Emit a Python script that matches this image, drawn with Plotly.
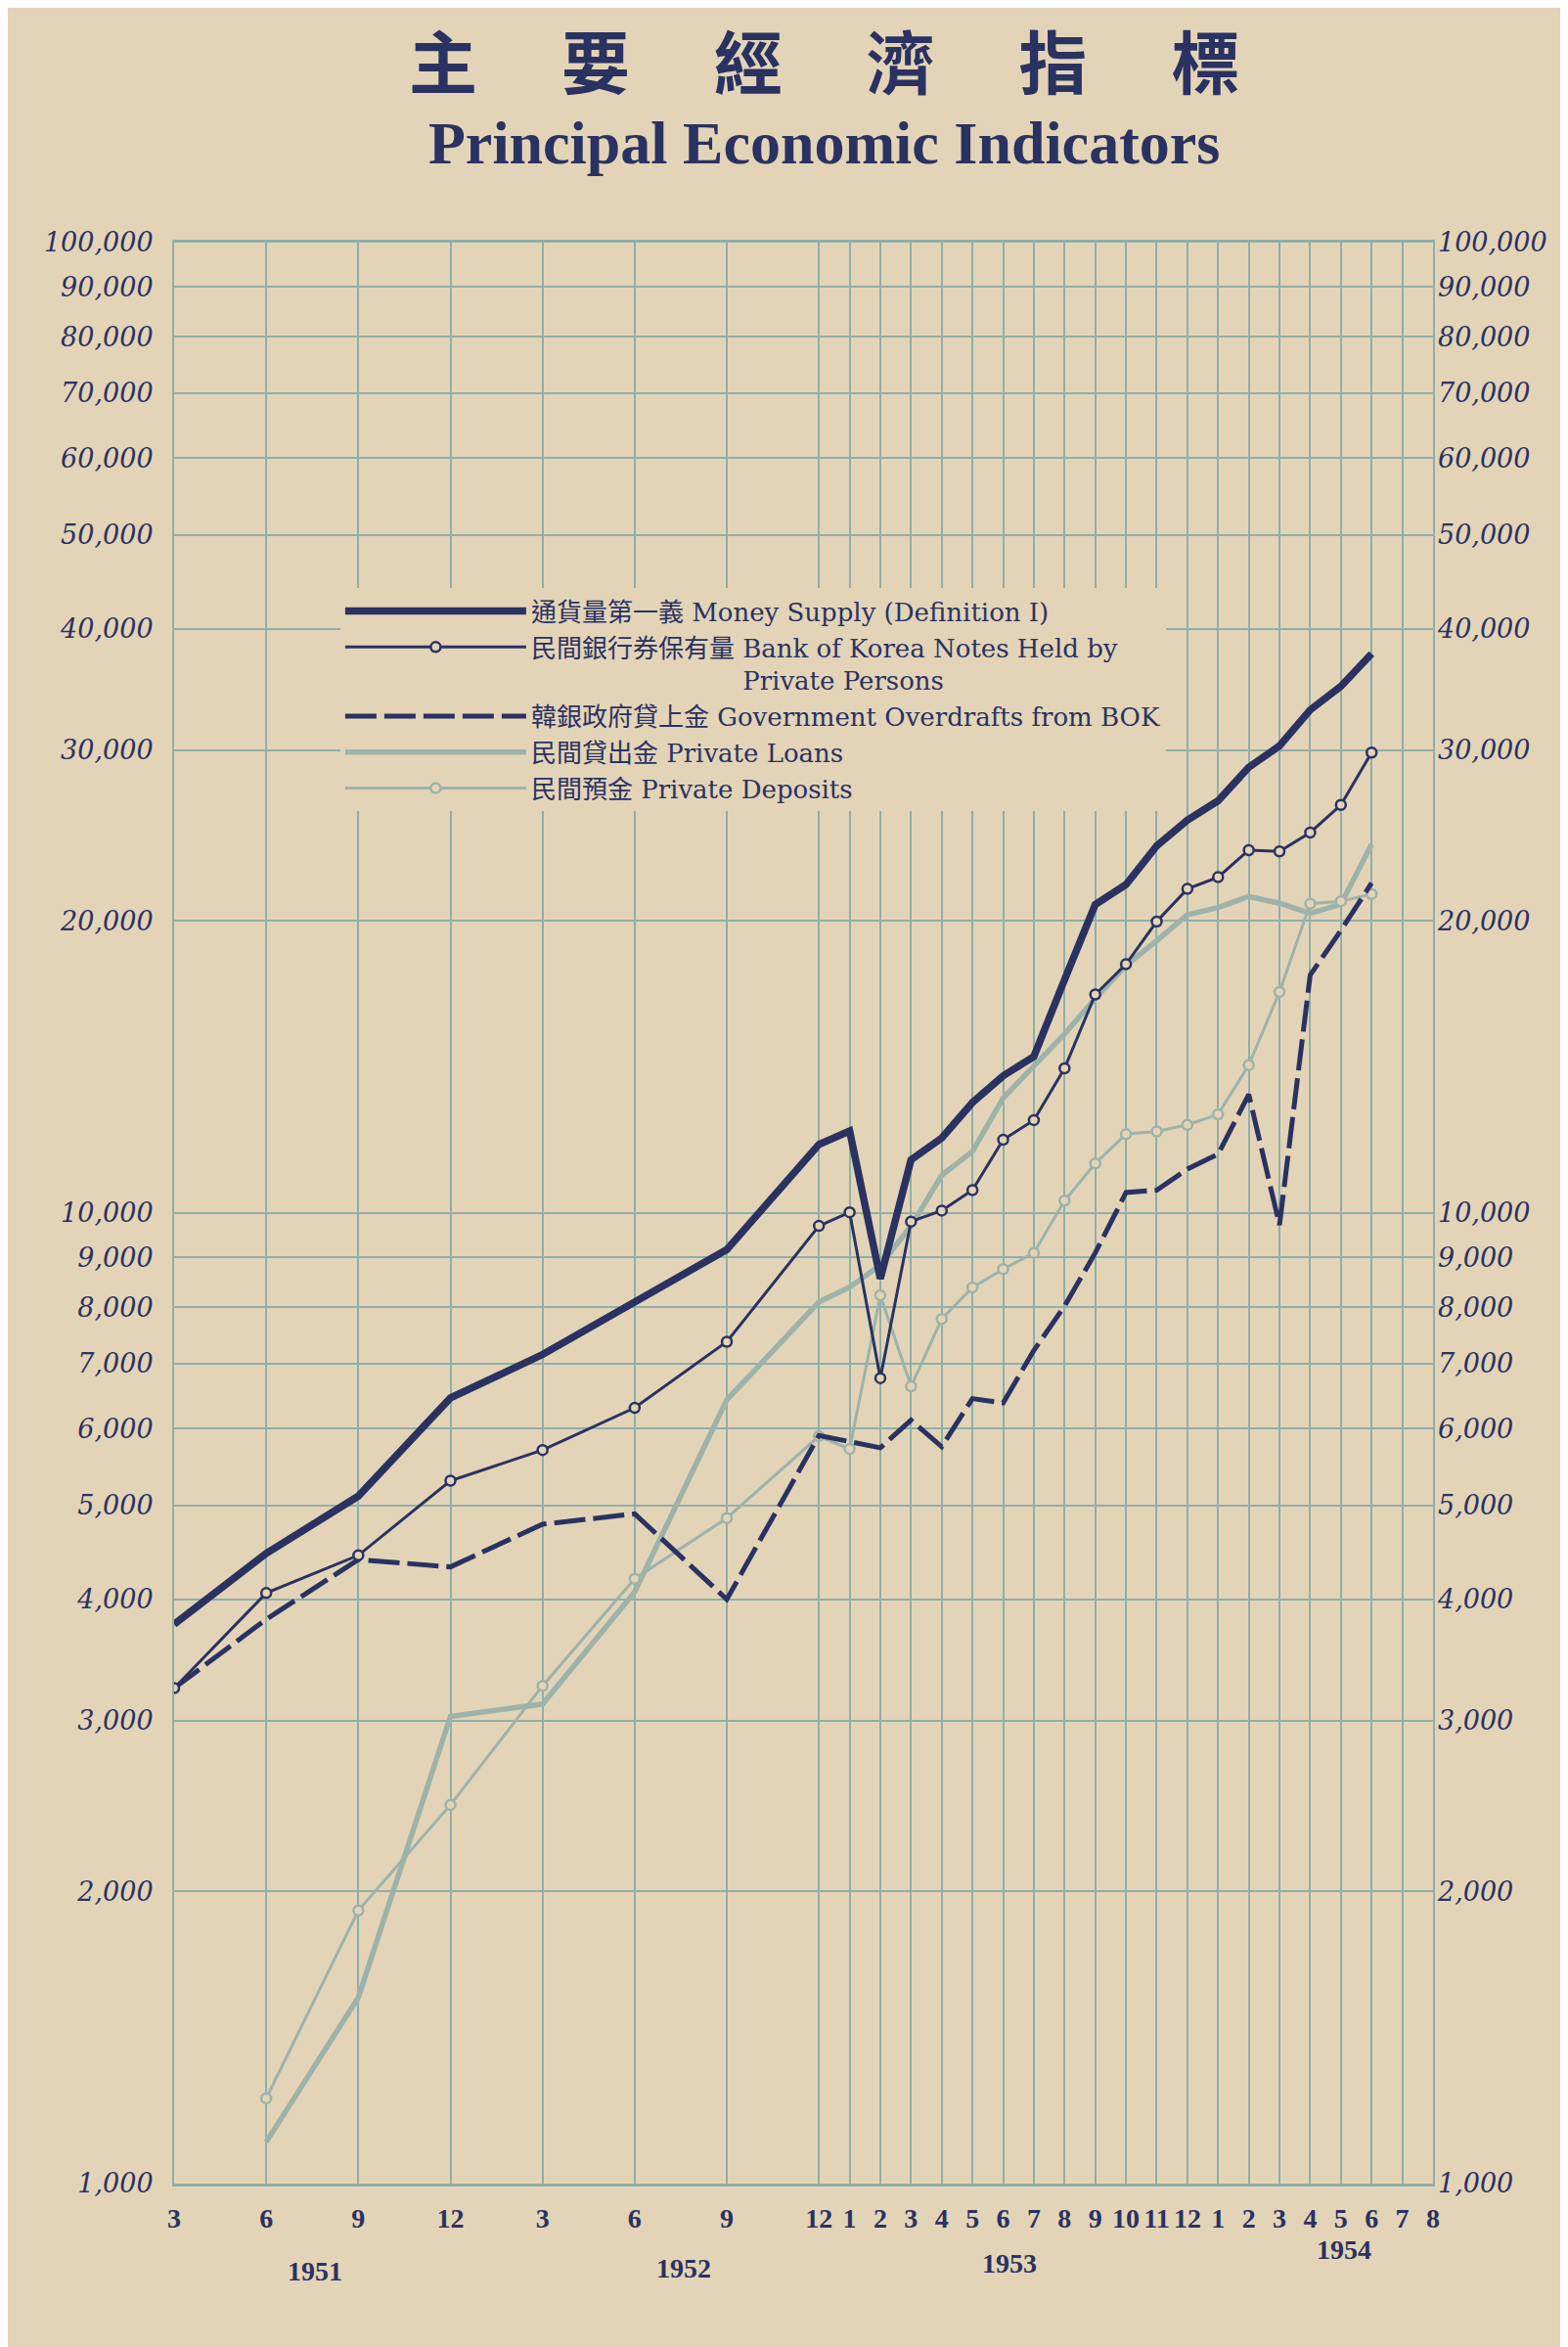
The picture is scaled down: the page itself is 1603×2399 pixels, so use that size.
import plotly.graph_objects as go

# month index: 0 = March 1951 ... 41 = August 1954
months = [0, 3, 6, 9, 12, 15, 18, 21, 22, 23, 24, 25, 26, 27, 28, 29, 30,
          31, 32, 33, 34, 35, 36, 37, 38, 39]
months_private = months[1:]

money_supply = [3770, 4460, 5110, 6450, 7150, 8100, 9170, 11770, 12150, 8560,
                11350, 11950, 13000, 13850, 14500, 17400, 20800, 21800, 23900,
                25400, 26600, 28800, 30300, 33000, 34900, 37700]
bok_notes = [3240, 4060, 4440, 5300, 5700, 6300, 7370, 9700, 10020, 6760,
             9800, 10060, 10560, 11900, 12470, 14100, 16800, 18050, 19970,
             21580, 22190, 23660, 23590, 24670, 26340, 29820]
gov_overdrafts = [3240, 3815, 4395, 4320, 4780, 4900, 4000, 5900, 5815, 5730,
                  6120, 5745, 6440, 6375, 7220, 8020, 9100, 10500, 10560,
                  11100, 11500, 13250, 9720, 17590, 19560, 21880]
private_loans = [1104, 1555, 3030, 3120, 4070, 6420, 8100, 8390, 8840, 9700,
                 10940, 11580, 13140, 14190, 15300, 16640, 18000, 19080,
                 20300, 20650, 21200, 20860, 20360, 20810, 23990]
private_deposits = [1224, 1912, 2456, 3258, 4200, 4850, 5890, 5714, 8230,
                    6630, 7780, 8385, 8755, 9100, 10300, 11250, 12060, 12140,
                    12330, 12640, 14210, 16900, 20840, 20960, 21320]

tick_months = [0, 3, 6, 9, 12, 15, 18] + list(range(21, 42))
tick_text = ["3", "6", "9", "12", "3", "6", "9", "12"] + \
    [str(m) for m in range(1, 13)] + [str(m) for m in range(1, 9)]
years = ["1951", "1952", "1953", "1954"]
year_centres = [4.6, 16.6, 27.2, 38.1]

y_ticks = [1000, 2000, 3000, 4000, 5000, 6000, 7000, 8000, 9000, 10000,
           20000, 30000, 40000, 50000, 60000, 70000, 80000, 90000, 100000]
y_text = ["{:,}".format(v) for v in y_ticks]

names = [
    "通貨量第一義 Money Supply (Definition I)",
    "民間銀行券保有量 Bank of Korea Notes Held by<br>" + "\u3000" * 8 + "\u00a0Private Persons",
    "韓銀政府貸上金 Government Overdrafts from BOK",
    "民間貸出金 Private Loans",
    "民間預金 Private Deposits",
]

paper = "#e3d4b7"
navy = "#2a3262"
sage = "#9db3aa"
grid = "#90afa8"
legend_fonts = "DejaVu Serif, Noto Sans CJK TC, serif"

fig = go.Figure()
fig.add_trace(go.Scatter(x=months_private, y=private_loans, name=names[3],
                         mode="lines", line=dict(color=sage, width=5.5),
                         legendrank=4))
fig.add_trace(go.Scatter(x=months_private, y=private_deposits, name=names[4],
                         mode="lines+markers", line=dict(color=sage, width=3),
                         marker=dict(symbol="circle", size=10, color=paper,
                                     line=dict(color=sage, width=2.5)),
                         legendrank=5))
fig.add_trace(go.Scatter(x=months, y=gov_overdrafts, name=names[2],
                         mode="lines", line=dict(color=navy, width=5, dash="32px,8px"),
                         legendrank=3))
fig.add_trace(go.Scatter(x=months, y=bok_notes, name=names[1],
                         mode="lines+markers", line=dict(color=navy, width=3),
                         marker=dict(symbol="circle", size=10, color=paper,
                                     line=dict(color=navy, width=2.5)),
                         legendrank=2))
fig.add_trace(go.Scatter(x=months, y=money_supply, name=names[0],
                         mode="lines", line=dict(color=navy, width=7.5),
                         legendrank=1))
# empty trace so the right-hand scale is drawn
fig.add_trace(go.Scatter(x=[], y=[], yaxis="y2", showlegend=False, hoverinfo="skip"))

axis_font = dict(family="DejaVu Serif", size=27, color=navy)

fig.update_layout(
    width=1603, height=2399,
    margin=dict(l=170, r=146, t=240, b=175),
    paper_bgcolor=paper, plot_bgcolor=paper,
    showlegend=True,
    legend=dict(x=0.132, y=0.822, xanchor="left", yanchor="top",
                bgcolor=paper, borderwidth=0, itemwidth=185, valign="top",
                font=dict(family=legend_fonts, size=26, color=navy)),
    xaxis=dict(range=[0, 41], tickvals=tick_months, ticktext=tick_text,
               showgrid=True, gridcolor=grid, gridwidth=1.5, zeroline=False,
               showline=True, linecolor=grid, linewidth=3, mirror=True,
               ticks="", ticklabelstandoff=8,
               tickfont=dict(family="Liberation Serif", size=28, color=navy,
                             weight="bold")),
    yaxis=dict(type="log", range=[3, 5], tickvals=y_ticks, ticktext=y_text,
               showgrid=True, gridcolor=grid, gridwidth=1.5, zeroline=False,
               showline=True, linecolor=grid, linewidth=2, mirror=True,
               ticks="", ticklabelstandoff=14,
               tickfont=dict(axis_font, style="italic")),
    yaxis2=dict(type="log", range=[3, 5], tickvals=y_ticks, ticktext=y_text,
                overlaying="y", side="right", showgrid=False, zeroline=False,
                ticks="", ticklabelstandoff=4,
                tickfont=dict(axis_font, style="italic")),
)

fig.add_annotation(text="主\u3000 要\u3000 經\u3000 濟\u3000 指\u3000 標",
                   xref="paper", yref="paper", x=0.516, y=1.0945,
                   showarrow=False, yanchor="middle",
                   font=dict(family="Noto Sans CJK TC", size=70, color=navy,
                             weight="bold"))
fig.add_annotation(text="Principal Economic Indicators",
                   xref="paper", yref="paper", x=0.516, y=1.0515,
                   showarrow=False, yanchor="middle",
                   font=dict(family="Liberation Serif", size=62, color=navy,
                             weight="bold"))

year_y = [-0.045, -0.0435, -0.041, -0.034]
for yr, xc, yy in zip(years, year_centres, year_y):
    fig.add_annotation(text=yr, x=xc, xref="x", y=yy, yref="paper",
                       showarrow=False, yanchor="middle",
                       font=dict(family="Liberation Serif", size=28,
                                 color=navy, weight="bold"))

fig.write_html("out.html")
